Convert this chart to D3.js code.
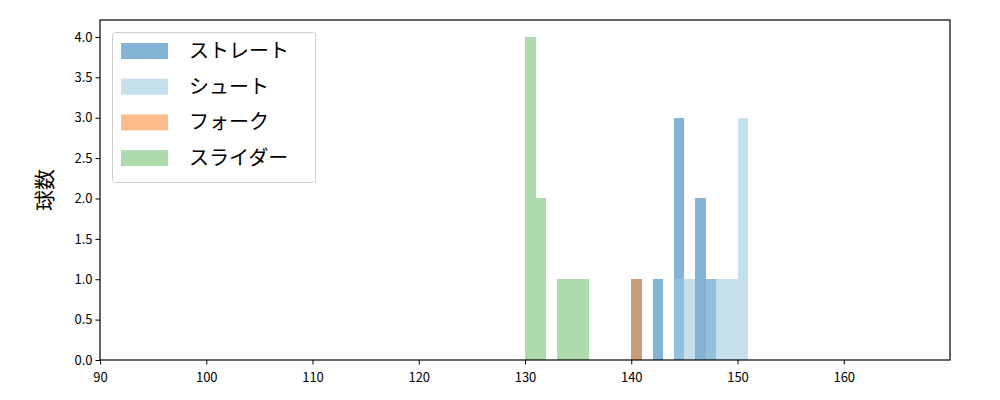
<!DOCTYPE html>
<html><head><meta charset="utf-8">
<script src="https://cdn.jsdelivr.net/npm/d3@7"></script>
<style>body{margin:0;background:#fff}svg{display:block}text{font-family:"Noto Sans CJK JP","Noto Sans",sans-serif}</style>
</head><body><svg id="c" width="1000" height="400"></svg>
<script>
const seriesNames = ["ストレート","シュート","フォーク","スライダー"];
const seriesColors = ["#3182bd","#9ecae1","#fd8d3c","#74c476"];
// bin left edges (bin width 1) and counts
const straightBins = [140,142,144,146,147];
const straightCounts = [1,1,3,2,1];
const shootBins = [144,145,147,148,149,150];
const shootCounts = [1,1,1,1,1,3];
const forkBins = [140];
const forkCounts = [1];
const sliderBins = [130,131,133,134,135];
const sliderCounts = [4,2,1,1,1];
const xTicks = [90,100,110,120,130,140,150,160];
const yTicks = [0,0.5,1,1.5,2,2.5,3,3.5,4];
const binWidth = 1;

const series = [
  {bins: straightBins, counts: straightCounts},
  {bins: shootBins, counts: shootCounts},
  {bins: forkBins, counts: forkCounts},
  {bins: sliderBins, counts: sliderCounts}
];

const svg = d3.select("#c");
const L=100, R=950, T=20, B=360;
const x = d3.scaleLinear().domain([90,170]).range([L,R]);
const y = d3.scaleLinear().domain([0,4.21]).range([B,T]);

series.forEach((s,i)=>{
  svg.append("g").attr("shape-rendering","crispEdges")
    .selectAll("rect").data(s.bins.map((b,j)=>({b,c:s.counts[j]})))
    .enter().append("rect")
    .attr("x",d=>Math.round(x(d.b))).attr("width",d=>Math.round(x(d.b+binWidth))-Math.round(x(d.b)))
    .attr("y",d=>Math.round(y(d.c))).attr("height",d=>Math.round(y(0))-Math.round(y(d.c)))
    .attr("fill",seriesColors[i]).attr("fill-opacity",0.6);
});

const xa = svg.append("g").attr("transform",`translate(0,${B})`)
  .call(d3.axisBottom(x).tickValues(xTicks).tickFormat(d3.format("d")).tickSize(4.5).tickSizeOuter(0));
const ya = svg.append("g").attr("transform",`translate(${L},0)`)
  .call(d3.axisLeft(y).tickValues(yTicks).tickFormat(d3.format(".1f")).tickSize(4.5).tickSizeOuter(0));
[xa,ya].forEach(a=>{
  a.select(".domain").remove();
  a.selectAll("line").attr("stroke","#000").attr("stroke-width",1);
  a.selectAll("text").attr("font-size",13).attr("fill","#000");
});
xa.selectAll("text").attr("dy","1.15em");
svg.append("rect").attr("x",L).attr("y",T).attr("width",R-L).attr("height",B-T)
  .attr("fill","none").attr("stroke","#000").attr("stroke-width",1.2);

svg.append("text").attr("transform","translate(52,190) rotate(-90)")
  .attr("text-anchor","middle").attr("font-size",21).text("球数");

const lg = svg.append("g");
lg.append("rect").attr("x",112.5).attr("y",32.5).attr("width",203).attr("height",150)
  .attr("rx",3).attr("fill","#fff").attr("fill-opacity",0.8).attr("stroke","#ccc");
seriesNames.forEach((n,i)=>{
  const yy = 51 + i*35.7;
  lg.append("rect").attr("x",121).attr("y",yy-8).attr("width",47).attr("height",16)
    .attr("fill",seriesColors[i]).attr("fill-opacity",0.6);
  lg.append("text").attr("x",189).attr("y",yy).attr("dy","0.35em")
    .attr("font-size",20).text(n);
});
</script></body></html>
